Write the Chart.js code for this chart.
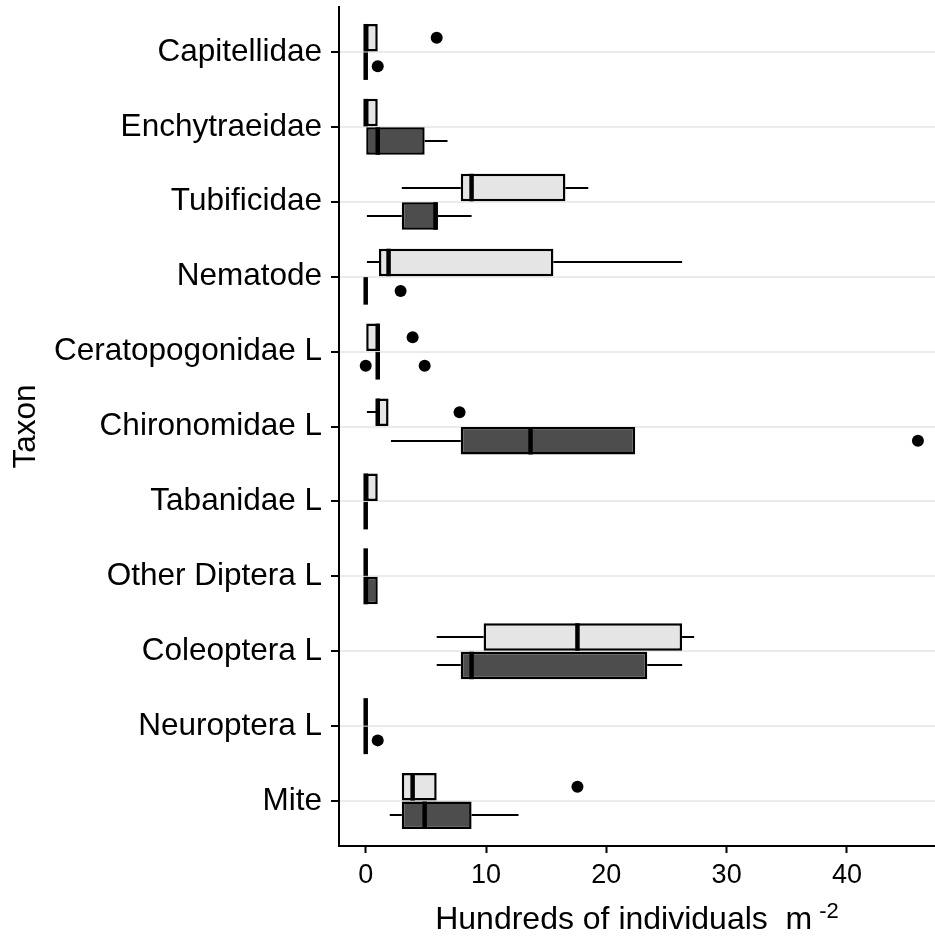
<!DOCTYPE html>
<html>
<head>
<meta charset="utf-8">
<script src="https://cdn.jsdelivr.net/npm/chart.js@4"></script>
<style>
  body { margin: 0; background: #fff; }
  canvas { display: block; }
</style>
</head>
<body>
<canvas id="chart" width="935" height="941"></canvas>
<script>
const taxa = [
  'Capitellidae', 'Enchytraeidae', 'Tubificidae', 'Nematode', 'Ceratopogonidae L',
  'Chironomidae L', 'Tabanidae L', 'Other Diptera L', 'Coleoptera L', 'Neuroptera L', 'Mite',
]
const xTicks = [0, 10, 20, 30, 40]

// upper boxes (light)
const lightMin = [0, 0, 3.0, 0.1, 0, 0.1, 0, 0, 5.9, 0, 3.0]
const lightQ1 = [0, 0, 7.9, 1.1, 0, 0.9, 0, 0, 9.8, 0, 3.0]
const lightMed = [0, 0, 8.8, 1.9, 1.0, 1.0, 0, 0, 17.6, 0, 3.9]
const lightQ3 = [1.0, 1.0, 16.6, 15.6, 1.1, 1.9, 1.0, 0, 26.3, 0, 5.9]
const lightMax = [1.0, 1.0, 18.5, 26.3, 1.1, 1.9, 1.0, 0, 27.3, 0, 5.9]
const lightOut = [[5.9], [], [], [], [3.9], [7.8], [], [], [], [], [17.6]]

// lower boxes (dark)
const darkMin = [0, 0, 0.1, 0, 1.0, 2.1, 0, 0, 5.9, 0, 2.0]
const darkQ1 = [0, 0, 3.0, 0, 1.0, 7.9, 0, 0, 7.9, 0, 3.0]
const darkMed = [0, 1.0, 5.8, 0, 1.0, 13.7, 0, 0, 8.8, 0, 4.9]
const darkQ3 = [0, 4.9, 6.0, 0, 1.0, 22.4, 0, 1.0, 23.4, 0, 8.8]
const darkMax = [0, 6.8, 8.8, 0, 1.0, 22.4, 0, 1.0, 26.3, 0, 12.7]
const darkOut = [[1.0], [], [], [2.9], [0, 4.9], [45.9], [], [], [], [1.0], []]

const groups = [
  { fill: '#e5e5e5', min: lightMin, q1: lightQ1, med: lightMed, q3: lightQ3, max: lightMax, out: lightOut },
  { fill: '#4d4d4d', min: darkMin, q1: darkQ1, med: darkMed, q3: darkQ3, max: darkMax, out: darkOut },
]

const FONT = "'Liberation Sans', Arial, sans-serif"
Chart.defaults.font.family = FONT
Chart.defaults.color = '#000'

// whiskers, medians and outlying points on top of the bars
const boxDetail = {
  id: 'boxDetail',
  afterDatasetsDraw(chart) {
    const ctx = chart.ctx
    const x = chart.scales.x
    const seg = (x1, y1, x2, y2) => {
      ctx.beginPath()
      ctx.moveTo(x1, y1)
      ctx.lineTo(x2, y2)
      ctx.stroke()
    }
    ctx.save()
    ctx.strokeStyle = '#000'
    ctx.fillStyle = '#000'
    groups.forEach((g, d) => {
      chart.getDatasetMeta(d).data.forEach((bar, i) => {
        const top = bar.y - bar.height / 2
        const bottom = bar.y + bar.height / 2
        const cy = Math.round(bar.y)
        ctx.lineWidth = 2
        if (g.min[i] < g.q1[i]) seg(x.getPixelForValue(g.min[i]), cy, x.getPixelForValue(g.q1[i]), cy)
        if (g.max[i] > g.q3[i]) seg(x.getPixelForValue(g.q3[i]), cy, x.getPixelForValue(g.max[i]), cy)
        ctx.lineWidth = 4.5
        const m = x.getPixelForValue(g.med[i])
        seg(m, top, m, bottom)
        g.out[i].forEach((v) => {
          ctx.beginPath()
          ctx.arc(x.getPixelForValue(v), bar.y, 6, 0, Math.PI * 2)
          ctx.fill()
        })
      })
    })
    ctx.restore()
  },
  afterDraw(chart) {
    // x-axis title with a superscript exponent
    const ctx = chart.ctx
    const area = chart.chartArea
    const main = 'Hundreds of individuals  m'
    const sup = '-2'
    ctx.save()
    ctx.fillStyle = '#000'
    ctx.textBaseline = 'alphabetic'
    ctx.font = '32px ' + FONT
    const w1 = ctx.measureText(main).width
    ctx.font = '22px ' + FONT
    const w2 = ctx.measureText(sup).width
    const gap = 7
    const start = (area.left + area.right) / 2 - (w1 + gap + w2) / 2
    ctx.font = '32px ' + FONT
    ctx.fillText(main, start, 929)
    ctx.font = '22px ' + FONT
    ctx.fillText(sup, start + w1 + gap, 918)
    ctx.restore()
  },
}

new Chart(document.getElementById('chart'), {
  type: 'bar',
  data: {
    datasets: groups.map((g) => ({
      data: taxa.map((_, i) => ({ y: i, x: [g.q1[i], g.q3[i]] })),
      backgroundColor: g.fill,
      borderColor: '#000',
      borderWidth: 2.5,
      borderSkipped: false,
      categoryPercentage: 0.76,
      barPercentage: 0.966,
    })),
  },
  options: {
    indexAxis: 'y',
    responsive: false,
    animation: false,
    layout: { padding: { top: 7, left: 0, right: 0, bottom: 0 } },
    plugins: { legend: { display: false }, tooltip: { enabled: false } },
    scales: {
      x: {
        type: 'linear',
        min: -2.22,
        max: 47.32,
        afterBuildTicks: (scale) => { scale.ticks = xTicks.map((v) => ({ value: v })) },
        afterFit: (scale) => {
          scale.height = 95
          scale.paddingLeft = 0
          scale.paddingRight = 0
        },
        grid: { drawOnChartArea: false, tickColor: '#000', tickLength: 7, tickWidth: 2 },
        border: { color: '#000', width: 2 },
        ticks: { font: { size: 27 }, color: '#000', padding: 6, maxRotation: 0, autoSkip: false },
      },
      y: {
        type: 'linear',
        reverse: true,
        offset: false,
        min: -0.6,
        max: taxa.length - 0.4,
        afterBuildTicks: (scale) => { scale.ticks = taxa.map((_, i) => ({ value: i })) },
        afterFit: (scale) => {
          scale.width = 339
          scale.paddingTop = 0
          scale.paddingBottom = 0
        },
        grid: { offset: false, color: '#ebebeb', lineWidth: 2, tickColor: '#000', tickLength: 8, tickWidth: 2 },
        border: { color: '#000', width: 2 },
        ticks: {
          font: { size: 31.5 },
          color: '#000',
          padding: 9,
          autoSkip: false,
          callback: (v) => taxa[v],
        },
        title: { display: true, text: 'Taxon', font: { size: 31.5 }, color: '#000', padding: { top: 7 } },
      },
    },
  },
  plugins: [boxDetail],
})
</script>
</body>
</html>
